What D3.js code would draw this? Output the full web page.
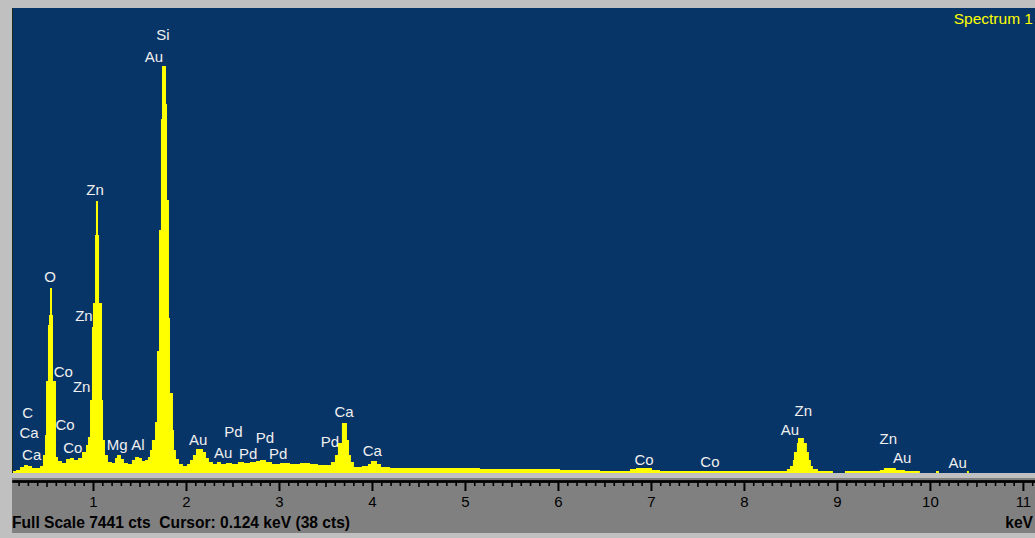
<!DOCTYPE html>
<html><head><meta charset="utf-8">
<script src="https://cdn.jsdelivr.net/npm/d3@7"></script>
<style>html,body{margin:0;padding:0;background:#c0c0c0;overflow:hidden}</style>
</head><body>
<svg id="chart" width="1035" height="538"></svg>
<script>
// Spectrum bins: left edge energy (keV) and counts
const energyKeV = [0.129,0.172,0.215,0.258,0.301,0.344,0.430,0.462,0.484,0.495,0.516,0.527,0.538,0.559,0.570,0.602,0.624,0.667,0.710,0.753,0.796,0.839,0.882,0.925,0.946,0.968,0.989,1.000,1.022,1.032,1.054,1.065,1.097,1.108,1.129,1.161,1.204,1.237,1.258,1.301,1.333,1.376,1.419,1.452,1.495,1.527,1.559,1.591,1.613,1.634,1.667,1.688,1.710,1.731,1.742,1.785,1.796,1.817,1.828,1.860,1.871,1.892,1.925,1.968,2.011,2.043,2.075,2.108,2.183,2.215,2.247,2.290,2.333,2.376,2.430,2.495,2.559,2.624,2.688,2.753,2.796,2.860,2.925,3.011,3.118,3.226,3.333,3.419,3.559,3.602,3.634,3.677,3.731,3.753,3.774,3.806,3.892,3.957,3.989,4.054,4.097,4.194,5.161,6.022,6.452,6.774,6.839,7.011,7.097,8.462,8.495,8.527,8.538,8.570,8.581,8.645,8.677,8.699,8.720,8.742,8.796,8.957,9.086,9.462,9.505,9.634,9.731,9.892,10.065,10.097,10.398,10.419,11.13];
const counts = [32,48,96,128,112,80,112,288,608,1472,2368,2528,2960,2528,1472,256,192,160,224,240,208,240,336,448,576,1168,2336,2720,3808,4352,3808,2720,1168,528,288,176,160,240,288,224,160,144,208,256,240,192,208,256,368,528,816,1952,3888,5664,6512,5904,4368,2480,1280,688,368,224,144,112,144,208,288,384,336,240,176,144,176,144,160,144,176,160,176,192,208,176,144,160,144,160,144,128,176,288,480,800,528,288,176,96,112,144,192,144,96,80,64,48,32,64,80,48,32,64,112,208,336,480,560,480,336,208,112,64,32,0,32,48,80,48,32,0,32,0,32,0,0];

// Peak labels
const labelText = ["C","Ca","Ca","O","Co","Co","Co","Zn","Zn","Zn","Mg","Al","Si","Au","Au","Au","Pd","Pd","Pd","Pd","Pd","Ca","Ca","Co","Co","Zn","Au","Zn","Au","Au"];
const labelKeV = [0.298,0.312,0.341,0.538,0.681,0.699,0.782,1.022,0.903,0.878,1.261,1.484,1.753,1.656,2.132,2.401,2.509,2.670,2.849,2.992,3.548,3.699,4.003,6.925,7.634,8.638,8.495,9.552,9.703,10.298];
const labelCounts = [968,640,288,3136,1616,768,405,4528,2512,1376,448,448,7008,6656,528,320,656,304,560,304,496,976,352,208,176,992,688,544,240,165];

// Axis
const majorTicks = [1,2,3,4,5,6,7,8,9,10,11];
const fullScale = 7441;
const xMaxKeV = 11.13;
const footerText = "Full Scale 7441 cts  Cursor: 0.124 keV (38 cts)";
const unitText = "keV";
const spectrumName = "Spectrum 1";

const W = 1035, H = 538;
const plot = {left: 12, top: 8, right: 1035, bottom: 473};
const svg = d3.select("#chart");

const x = d3.scaleLinear().domain([0, xMaxKeV]).range([0, W]);
const y = d3.scaleLinear().domain([0, fullScale]).range([plot.bottom, plot.top]);

svg.append("rect").attr("width", W).attr("height", H).attr("fill", "#c0c0c0");
svg.append("rect").attr("x", plot.left).attr("y", plot.top)
  .attr("width", plot.right - plot.left).attr("height", plot.bottom - plot.top)
  .attr("fill", "#083567");
svg.append("line").attr("x1", plot.left + 0.5).attr("x2", plot.left + 0.5)
  .attr("y1", plot.top).attr("y2", plot.bottom).attr("stroke", "#1c2b1c").attr("stroke-width", 1);

svg.append("clipPath").attr("id", "clip").append("rect")
  .attr("x", plot.left + 1).attr("y", plot.top)
  .attr("width", plot.right - plot.left - 1).attr("height", plot.bottom - plot.top);

const data = energyKeV.map((e, i) => ({e, c: counts[i]}));
const area = d3.area()
  .x(d => x(d.e)).y0(y(0)).y1(d => y(d.c))
  .curve(d3.curveStepAfter);
svg.append("path").datum(data).attr("clip-path", "url(#clip)")
  .attr("d", area).attr("fill", "#ffff00");

// Labels
const labelG = svg.append("g").attr("font-family", "'Liberation Sans', Arial, sans-serif")
  .attr("font-size", 15).attr("fill", "#f0f0f0").attr("text-anchor", "middle");
labelText.forEach((t, i) => {
  labelG.append("text").attr("x", x(labelKeV[i])).attr("y", y(labelCounts[i]))
    .attr("dy", "0.36em").text(t);
});

svg.append("text").attr("x", 1033).attr("y", 18).attr("dy", "0.36em")
  .attr("text-anchor", "end").attr("font-family", "'Liberation Sans', Arial, sans-serif")
  .attr("font-size", 15.5).attr("fill", "#ffff00").text(spectrumName);

// Axis panel
svg.append("rect").attr("x", plot.left).attr("y", 478).attr("width", plot.right - plot.left)
  .attr("height", 55).attr("fill", "#808080");

const axisY = 481;
const xa = d3.scaleLinear().domain([plot.left / W * xMaxKeV, xMaxKeV]).range([plot.left, plot.right]);
const minorVals = d3.range(2, 112).map(v => v / 10).filter(v => Math.abs(v - Math.round(v)) > 1e-6);
const halfVals = minorVals.filter(v => Math.abs(v * 2 - Math.round(v * 2)) < 1e-6);
const tenthVals = minorVals.filter(v => !halfVals.includes(v));

const gMinor = svg.append("g").attr("transform", `translate(0,${axisY})`)
  .call(d3.axisBottom(xa).tickValues(tenthVals).tickSize(5).tickSizeOuter(0).tickFormat(""));
const gHalf = svg.append("g").attr("transform", `translate(0,${axisY})`)
  .call(d3.axisBottom(xa).tickValues(halfVals).tickSize(6).tickSizeOuter(0).tickFormat(""));
const gMajor = svg.append("g").attr("transform", `translate(0,${axisY})`)
  .call(d3.axisBottom(xa).tickValues(majorTicks).tickSize(10).tickSizeOuter(0).tickPadding(5).tickFormat(d3.format("d")));
[gMinor, gHalf, gMajor].forEach(g => {
  g.select(".domain").attr("stroke", "#000").attr("stroke-width", 2);
  g.selectAll(".tick line").attr("stroke", "#000").attr("stroke-width", 1.6);
});
gMajor.selectAll(".tick line").attr("stroke-width", 2);
gMajor.selectAll(".tick text").attr("fill", "#000").attr("font-size", 15)
  .attr("font-family", "'Liberation Sans', Arial, sans-serif");

svg.append("text").attr("x", 12).attr("y", 528)
  .attr("font-family", "'Liberation Sans', Arial, sans-serif").attr("font-weight", "bold")
  .attr("font-size", 15.6).attr("fill", "#000").attr("xml:space", "preserve")
  .style("white-space", "pre").text(footerText);
svg.append("text").attr("x", 1033).attr("y", 528).attr("text-anchor", "end")
  .attr("font-family", "'Liberation Sans', Arial, sans-serif").attr("font-weight", "bold")
  .attr("font-size", 15.6).attr("fill", "#000").text(unitText);
</script>
</body></html>
